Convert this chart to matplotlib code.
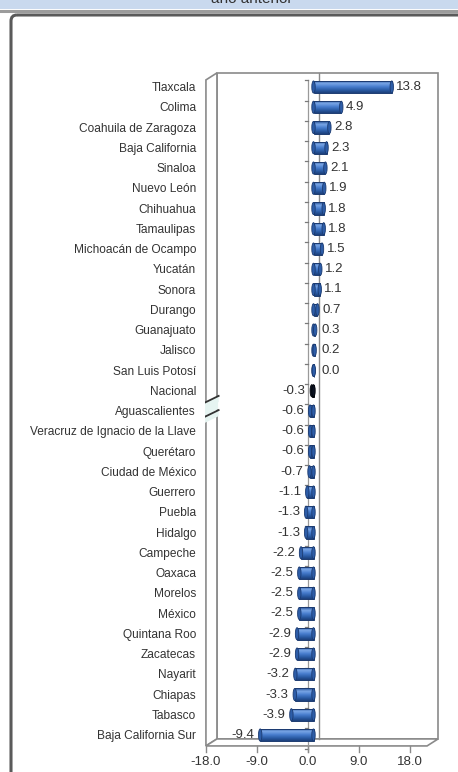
import numpy as np
import matplotlib
matplotlib.use("Agg")
import matplotlib.pyplot as plt
import matplotlib.patches as patches
from matplotlib.colors import LinearSegmentedColormap

plt.rcParams['font.family'] = ['Liberation Sans', 'DejaVu Sans']

states = [
    "Tlaxcala", "Colima", "Coahuila de Zaragoza", "Baja California", "Sinaloa",
    "Nuevo León", "Chihuahua", "Tamaulipas", "Michoacán de Ocampo", "Yucatán",
    "Sonora", "Durango", "Guanajuato", "Jalisco", "San Luis Potosí", "Nacional",
    "Aguascalientes", "Veracruz de Ignacio de la Llave", "Querétaro",
    "Ciudad de México", "Guerrero", "Puebla", "Hidalgo", "Campeche", "Oaxaca",
    "Morelos", "México", "Quintana Roo", "Zacatecas", "Nayarit", "Chiapas",
    "Tabasco", "Baja California Sur",
]
values = [
    13.8, 4.9, 2.8, 2.3, 2.1, 1.9, 1.8, 1.8, 1.5, 1.2, 1.1, 0.7, 0.3, 0.2, 0.0,
    -0.3, -0.6, -0.6, -0.6, -0.7, -1.1, -1.3, -1.3, -2.2, -2.5, -2.5, -2.5,
    -2.9, -2.9, -3.2, -3.3, -3.9, -9.4,
]
highlight = "Nacional"
xticks = [-18.0, -9.0, 0.0, 9.0, 18.0]

W, H = 458, 772
fig = plt.figure(figsize=(W / 100, H / 100), dpi=100)

# background layer in pixel coords: top band + outer frame
bg = fig.add_axes([0, 0, 1, 1])
bg.set_xlim(0, W)
bg.set_ylim(H, 0)
bg.axis('off')
bg.add_patch(patches.Rectangle((0, 0), W, 9, facecolor='#c9d9ee', edgecolor='none'))
bg.plot([0, W], [11, 11], color='#9c9c9c', lw=2.2)
bg.text(252, -1, "año anterior", ha='center', va='center', fontsize=11, color='#333333')
bg.add_patch(patches.FancyBboxPatch((11, 15), 480, 800,
                                    boxstyle="round,pad=0,rounding_size=6",
                                    facecolor='none', edgecolor='#5a5a5a', lw=2.2))

# chart axes: x in data units, y in row index
PX = 5.67          # pixels per unit
X0 = 308           # pixel of zero on front plane
ROW0, ROWH = 87, 20.25
left_u, right_u = -18.2, 23.6
top_px, bot_px = 66, 772
ax = fig.add_axes([(X0 + left_u * PX) / W, 1 - bot_px / H,
                   (right_u - left_u) * PX / W, (bot_px - top_px) / H])
ax.axis('off')

DX = 11 / PX       # depth offset
DY = 7 / ROWH
front_top = -0.35
front_bot = 32.54
xmin, xmax = -18.0, 21.0
wall = '#8a8a8a'

# back wall
ax.add_patch(patches.Rectangle((xmin + DX, front_top - DY), xmax - xmin,
                               front_bot - front_top, facecolor='white',
                               edgecolor=wall, lw=1.2, zorder=1))
# left wall
ax.add_patch(patches.Polygon([(xmin, front_top), (xmin, front_bot),
                              (xmin + DX, front_bot - DY), (xmin + DX, front_top - DY)],
                             closed=True, facecolor='white', edgecolor=wall, lw=1.2, zorder=1))
# floor
ax.add_patch(patches.Polygon([(xmin, front_bot), (xmax, front_bot),
                              (xmax + DX, front_bot - DY), (xmin + DX, front_bot - DY)],
                             closed=True, facecolor='white', edgecolor=wall, lw=1.2, zorder=1))
# axis break on left wall
for yb in (15.6, 16.3):
    ax.add_patch(patches.Polygon([(xmin - 0.3, yb), (xmin + DX + 0.3, yb - DY),
                                  (xmin + DX + 0.3, yb - DY + 0.3), (xmin - 0.3, yb + 0.3)],
                                 closed=True, facecolor='#e6f4f1', edgecolor='none', zorder=2))
    ax.plot([xmin - 0.3, xmin + DX + 0.3], [yb, yb - DY], color='#333333', lw=1.3, zorder=3)
ax.add_patch(patches.Polygon([(xmin - 0.2, 15.75), (xmin + DX + 0.2, 15.75 - DY),
                              (xmin + DX + 0.2, 16.25 - DY), (xmin - 0.2, 16.25)],
                             closed=True, facecolor='#e6f4f1', edgecolor='none', zorder=2))

# zero lines
ax.plot([DX, DX], [front_top - DY, front_bot - DY], color=wall, lw=1.0, zorder=2)
ax.plot([0, 0], [front_top, front_bot + 0.3], color='#9a9a9a', lw=0.9, zorder=2)
for i in range(len(states) + 1):
    yt = i - 0.5 + DY / 2
    ax.plot([-0.45, 0], [yt, yt], color='#7a7a7a', lw=0.9, zorder=2)

# x ticks on floor front edge
for t in xticks:
    ax.plot([t, t], [front_bot, front_bot + 0.3], color=wall, lw=1.0, zorder=2)
    ax.text(t, 33.35, f"{t:.1f}", ha='center', va='center', fontsize=9.5, color='#333333')

blue = LinearSegmentedColormap.from_list('b', ['#1f4a8e', '#7aa6e6', '#4a7fd0', '#2c5ea8', '#1c3f7a'])
dark = LinearSegmentedColormap.from_list('d', ['#04070e', '#3a4c6e', '#0b1426', '#03060c'])
grad = np.linspace(0, 1, 64).reshape(-1, 1)
bh = 0.6

for i, (name, v) in enumerate(zip(states, values)):
    cmap = dark if name == highlight else blue
    edge = '#02050a' if name == highlight else '#1b3a70'
    x0 = min(0, v) + DX / 2
    w = max(abs(v), 0.05)
    rect = patches.Rectangle((x0, i - bh / 2), w, bh, facecolor='none',
                             edgecolor=edge, lw=0.7, zorder=5)
    ax.add_patch(rect)
    im = ax.imshow(grad, extent=[x0, x0 + w, i + bh / 2, i - bh / 2], cmap=cmap,
                   aspect='auto', zorder=4, interpolation='bilinear')
    im.set_clip_path(rect)
    # rounded caps
    cap_col = '#0a1222' if name == highlight else '#2d5da8'
    for cx in (x0, x0 + w):
        ax.add_patch(patches.Ellipse((cx, i), 0.6, bh, facecolor=cap_col,
                                     edgecolor=edge, lw=0.6, zorder=6))

    if v > 0 or (v == 0):
        tx = max(v + DX / 2 + 0.8, DX + 0.5)
        ax.text(tx, i, f"{v:.1f}", ha='left', va='center', fontsize=9.5, color='#333333', zorder=7)
    else:
        tx = v + DX / 2 - 1.1
        ax.text(tx, i, f"{v:.1f}", ha='right', va='center', fontsize=9.5, color='#333333', zorder=7)

    ax.text((196 - X0) / PX, i + 0.05, name, ha='right', va='center', fontsize=8.6,
            color='#333333', zorder=7)

ax.set_xlim(left_u, right_u)
ax.set_ylim((bot_px - ROW0) / ROWH, (top_px - ROW0) / ROWH)

fig.savefig('out.png', dpi=100)
